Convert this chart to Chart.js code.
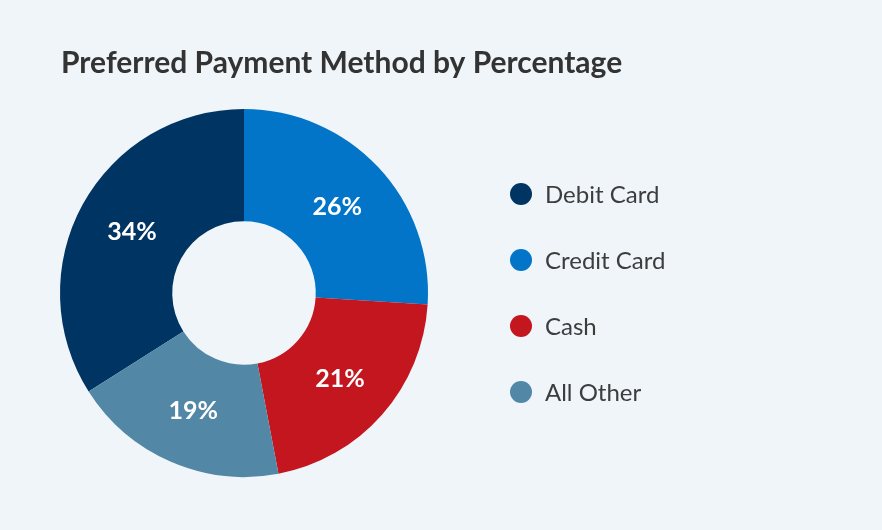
<!DOCTYPE html>
<html>
<head>
<meta charset="utf-8">
<script src="https://cdn.jsdelivr.net/npm/chart.js@4.4.0/dist/chart.umd.min.js"></script>
<style>
    html, body { margin: 0; padding: 0; background: #eff5f9; }
    #wrap { position: relative; width: 882px; height: 530px; }
</style>
</head>
<body>
<div id="wrap"><canvas id="chart" width="882" height="530"></canvas></div>
<script>
const TITLE = 'Preferred Payment Method by Percentage'
const labels = ['Debit Card', 'Credit Card', 'Cash', 'All Other']
const values = [34, 26, 21, 19]
const colors = ['#003463', '#0275c9', '#c4161e', '#5287a5']

// slice labels, drawn at the middle of every arc
const sliceLabels = {
    id: 'sliceLabels',
    afterDatasetsDraw(chart){
        const ctx = chart.ctx
        const meta = chart.getDatasetMeta(0)
        ctx.save()
        ctx.fillStyle = '#ffffff'
        ctx.font = 'bold 25px Lato'
        ctx.textAlign = 'center'
        ctx.textBaseline = 'middle'
        meta.data.forEach((arc, i) => {
            const p = arc.getCenterPoint()
            ctx.fillText(chart.data.datasets[0].data[i] + '%', p.x, p.y + 1)
        })
        ctx.restore()
    }
}

// title + legend on the right
const titleLegend = {
    id: 'titleLegend',
    afterDraw(chart){
        const ctx = chart.ctx
        ctx.save()
        ctx.fillStyle = '#333333'
        ctx.font = 'bold 30px Lato'
        ctx.textBaseline = 'alphabetic'
        ctx.fillText(TITLE, 61, 73)

        const ds = chart.data.datasets[0]
        ctx.font = '24px Lato'
        ctx.textBaseline = 'middle'
        chart.data.labels.forEach((lab, i) => {
            let y = 194 + i * 66
            ctx.beginPath()
            ctx.arc(521, y, 11, 0, Math.PI * 2)
            ctx.fillStyle = ds.backgroundColor[i]
            ctx.fill()
            ctx.fillStyle = '#3d3d3d'
            ctx.fillText(lab, 545, y + 1)
        })
        ctx.restore()
    }
}

let ctx = document.getElementById('chart').getContext('2d')
let chart = new Chart(ctx, {
    type: 'doughnut',
    data: {
        labels: labels,
        datasets: [{
            data: values,
            backgroundColor: colors,
            borderWidth: 0
        }]
    },
    options: {
        responsive: false,
        animation: false,
        rotation: -values[0] / 100 * 360,
        cutout: '39%',
        layout: {
            padding: {left: 60, right: 454, top: 109, bottom: 53}
        },
        plugins: {
            legend: {display: false},
            tooltip: {enabled: false}
        }
    },
    plugins: [sliceLabels, titleLegend]
})
</script>
</body>
</html>
